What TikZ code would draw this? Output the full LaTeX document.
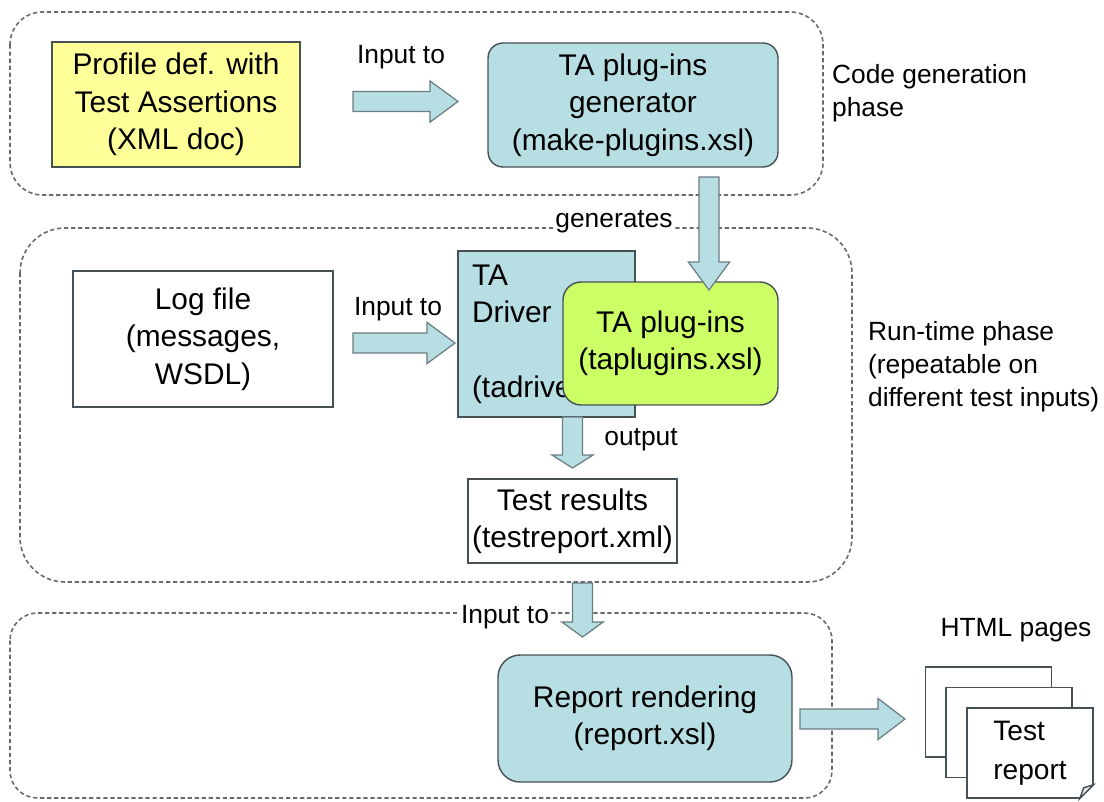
\documentclass[tikz,border=0pt]{standalone}
\usepackage{fontspec}
\setmainfont{Liberation Sans}
\usepackage{tikz}
\usetikzlibrary{calc}
\usetikzlibrary{positioning}

\definecolor{boxblue}{RGB}{183,222,226}
\definecolor{boxline}{RGB}{70,80,85}
\definecolor{arrowline}{RGB}{105,125,130}
\definecolor{docyellow}{RGB}{255,255,153}
\definecolor{pluggreen}{RGB}{204,255,102}
\definecolor{phaseline}{RGB}{105,105,105}

\newcommand{\boxfont}{\fontsize{17}{21.3}\selectfont}
\newcommand{\notefont}{\fontsize{15}{18.8}\selectfont}
\newcommand{\pagefont}{\fontsize{16}{22}\selectfont}

\begin{document}
\begin{tikzpicture}[x=0.02cm, y=-0.02cm,
    box/.style={draw=boxline, line width=0.8pt, inner sep=0pt, align=center, font=\boxfont},
    page/.style={draw=boxline, fill=white, line width=0.8pt, minimum width=2.52cm, minimum height=1.8cm},
    note/.style={inner sep=1pt, align=left, font=\notefont},
    phase/.style={draw=phaseline, line width=0.9pt, dash pattern=on 2.4pt off 1.6pt, rounded corners=#1},
    % block arrows going right / down, #1 = head length
    rblock/.style={draw=arrowline, fill=boxblue, line width=0.7pt,
        to path={let \p1=(\tikztostart), \p2=(\tikztotarget) in
            (\x1,{\y1+5.7pt}) -- ({\x2-#1},{\y1+5.7pt}) -- ({\x2-#1},{\y1+11.7pt}) -- (\x2,\y1)
            -- ({\x2-#1},{\y1-11.7pt}) -- ({\x2-#1},{\y1-5.7pt}) -- (\x1,{\y1-5.7pt}) -- cycle}},
    rblock/.default=15.9pt,
    dblock/.style={draw=arrowline, fill=boxblue, line width=0.7pt,
        to path={let \p1=(\tikztostart), \p2=(\tikztotarget) in
            ({\x1-5.7pt},\y1) -- ({\x1-5.7pt},{\y2+#1}) -- ({\x1-11.7pt},{\y2+#1}) -- (\x1,\y2)
            -- ({\x1+11.7pt},{\y2+#1}) -- ({\x1+5.7pt},{\y2+#1}) -- ({\x1+5.7pt},\y1) -- cycle}},
    dblock/.default=15.9pt]

\useasboundingbox (0,0) rectangle (1104,801);

% the three phases
\draw[phase=0.65cm] (10,12) rectangle (823,195);
\draw[phase=0.9cm] (20,228) rectangle (852,582);
\draw[phase=0.55cm] (10,613) rectangle (832,798);

% boxes
\draw (176,104.5) node[box, fill=docyellow, minimum width=4.96cm, minimum height=2.5cm] (profile) {Profile def. with\\Test Assertions\\(XML doc)};
\draw (633,105) node[box, fill=boxblue, rounded corners=0.3cm, minimum width=5.8cm, minimum height=2.48cm] (gen) {TA plug-ins\\generator\\(make-plugins.xsl)};
\draw (203,339) node[box, fill=white, minimum width=5.2cm, minimum height=2.72cm] (log) {Log file\\(messages,\\WSDL)};
\draw (546.5,334) node[box, fill=boxblue, minimum width=3.54cm, minimum height=3.32cm, text width=2.98cm, align=left] (driver) {TA\\Driver\\[\baselineskip]\mbox{(tadriver.xsl)}};
\draw (670.5,343.5) node[box, fill=pluggreen, rounded corners=0.36cm, minimum width=4.3cm, minimum height=2.46cm] (plug) {TA plug-ins\\(taplugins.xsl)};
\draw (572.5,521) node[box, fill=white, minimum width=4.18cm, minimum height=1.68cm] (results) {Test results\\(testreport.xml)};
\draw (645,718.5) node[box, fill=boxblue, rounded corners=0.44cm, minimum width=5.88cm, minimum height=2.54cm] (report) {Report rendering\\(report.xsl)};

% stack of html pages
\draw (988.5,712) node[page] (page1) {};
\draw (1009,732.5) node[page] (page2) {};
\draw (1030,753) node[page, align=left, font=\pagefont] (page3) {Test\\report};
\fill[white] ($(page3.south east)+(-15,1)$) -- ($(page3.south east)+(1,1)$) -- ($(page3.south east)+(1,-15)$) -- cycle;
\draw[boxline, line width=0.8pt, fill=gray!20] ($(page3.south east)+(-14,0)$) -- ($(page3.south east)+(-10,-11)$) -- ($(page3.south east)+(0,-14)$) -- cycle;

% labels
\draw (401,57) node[note, fill=white] (lin1) {Input to};
\draw (614,222) node[note, fill=white] (lgen) {generates};
\draw (398,309) node[note] (lin2) {Input to};
\draw (641,440) node[note] (lout) {output};
\draw (505,617) node[note, fill=white] (lin3) {Input to};
\draw (1016,630) node[note] (lhtml) {HTML pages};
\draw (830,62) node[note, anchor=north west] (lcode) {Code generation\\phase};
\draw (866,319) node[note, anchor=north west] (lrun) {Run-time phase\\(repeatable on\\different test inputs)};

% block arrows
\coordinate (a1s) at (353,101.5);
\coordinate (a1e) at (458,101.5);
\coordinate (a2s) at (709,177);
\coordinate (a2e) at (709,290);
\coordinate (a3s) at (353,343);
\coordinate (a3e) at (455,343);
\coordinate (a4s) at (572.5,417);
\coordinate (a4e) at (572.5,468);
\coordinate (a5s) at (582.5,583);
\coordinate (a5e) at (582.5,637);
\coordinate (a6s) at (800,719);
\coordinate (a6e) at (905,719);

\draw[rblock] (a1s) to (a1e);
\draw[dblock] (a2s) to (a2e);
\draw[rblock] (a3s) to (a3e);
\draw[dblock=7.4pt] (a4s) to (a4e);
\draw[dblock=8.5pt] (a5s) to (a5e);
\draw[rblock=15.4pt] (a6s) to (a6e);

\end{tikzpicture}
\end{document}
